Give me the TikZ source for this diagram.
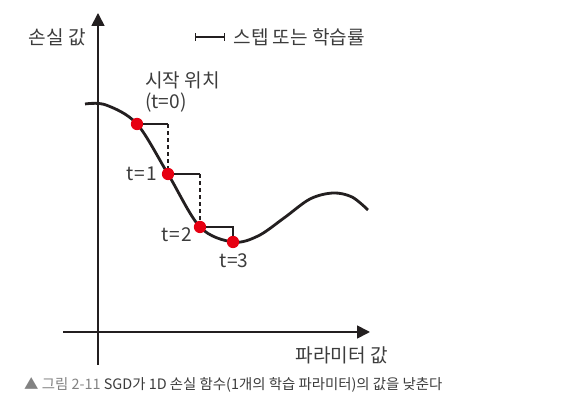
\documentclass[tikz,border=0pt]{standalone}
\usepackage{fontspec}
\setmainfont{Noto Sans CJK KR}
\usepackage{tikz}
\usetikzlibrary{positioning,arrows.meta}
\definecolor{LabelGray}{RGB}{60,60,60}
\definecolor{CapGray}{RGB}{130,130,130}
\definecolor{CurveInk}{RGB}{35,31,32}
\definecolor{DotRed}{RGB}{230,0,18}

\begin{document}
\begin{tikzpicture}[
x=0.03cm,y=-0.03cm,
lbl/.style={font=\fontsize{16.3}{18}\selectfont,text=LabelGray,inner sep=0pt},
dot/.style={circle,fill=DotRed,inner sep=0pt,minimum size=10.5pt},
axis/.style={line width=1.5pt,draw=CurveInk,-{Triangle[length=11pt,width=11pt]}},
stepline/.style={line width=0.9pt,draw=CurveInk},
curve/.style={line width=2.4pt,draw=CurveInk}
]
\useasboundingbox (0,0) rectangle (577,402);
% axes
\coordinate (xs) at (63,332); \coordinate (xe) at (370,332);
\coordinate (ys) at (98,365); \coordinate (ye) at (98,13);
\draw[axis] (xs)--(xe);
\draw[axis] (ys)--(ye);
\node[lbl,anchor=east] (ylab) at (86,37) {손실 값};
\node[lbl,anchor=east] (xlab) at (388,355) {파라미터 값};
% loss curve
\draw[curve] plot[smooth,tension=0.55] coordinates {(85,104) (106,105) (137,124) (168,174) (200,227) (233,242) (258,236) (284,218) (310,199) (333,193) (352,197) (368,210)};
% SGD steps
\node[dot] (p0) at (137,124) {};
\node[dot] (p1) at (168,174) {};
\node[dot] (p2) at (200,227) {};
\node[dot] (p3) at (233,242) {};
\draw[stepline] (p0)--(p0-|p1); \draw[stepline,dashed] (p0-|p1)--(p1);
\draw[stepline] (p1)--(p1-|p2); \draw[stepline,dashed] (p1-|p2)--(p2);
\draw[stepline] (p2)--(p2-|p3)--(p3);
\node[lbl,anchor=west,align=left] (start) at (145,92) {시작 위치\\[0pt](t=0)};
\node[lbl,anchor=east] (t1) at (157,174) {t\kern1pt=\kern1pt1};
\node[lbl,anchor=east] (t2) at (192,235) {t\kern1pt=\kern1pt2};
\node[lbl,anchor=north] (t3) at (234,253) {t=3};
% legend
\coordinate (la) at (195,37); \coordinate (lb) at (225,37);
\draw[stepline,{Bar[width=6pt]}-{Bar[width=6pt]}] (la)--(lb);
\node[lbl,right=7pt of lb] (leg) {스텝 또는 학습률};
% caption
\node[anchor=west,inner sep=0pt,font=\fontsize{12.3}{14}\selectfont] (cap) at (24,385)
  {\textcolor{CapGray}{▲ 그림 2-11} \textcolor{LabelGray}{SGD가 1D 손실 함수(1개의 학습 파라미터)의 값을 낮춘다}};
\end{tikzpicture}
\end{document}
